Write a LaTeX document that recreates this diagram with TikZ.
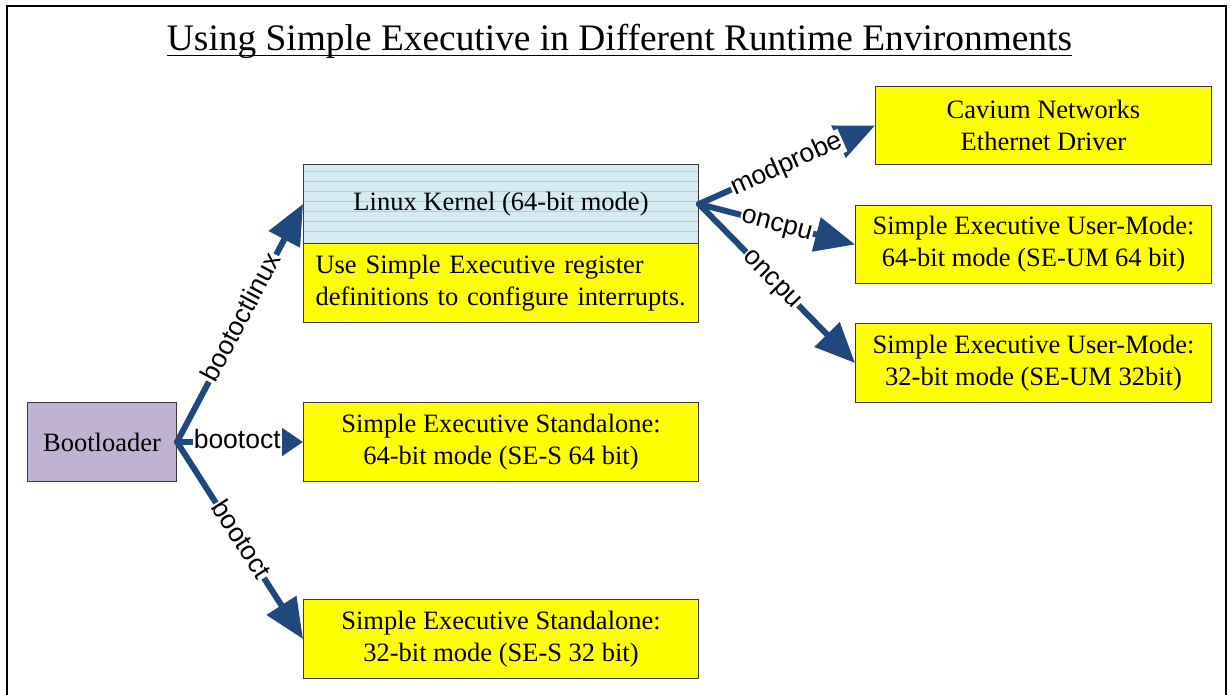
\documentclass[tikz,border=0pt]{standalone}
\usepackage{fontspec}
\setmainfont{Liberation Serif}
\setsansfont{Liberation Sans}
\usetikzlibrary{arrows.meta}

\definecolor{linkblue}{RGB}{31,73,125}
\definecolor{boxyellow}{RGB}{255,255,0}
\definecolor{bootlav}{RGB}{191,178,210}
\definecolor{kernelcyan}{RGB}{212,235,241}
\definecolor{kernelstripe}{RGB}{160,210,225}
\definecolor{boxedge}{RGB}{60,60,60}

\tikzset{
  boxtext/.style={font=\fontsize{26.5}{32}\selectfont},
  rbox/.style={boxtext, draw=boxedge, line width=1pt, fill=boxyellow,
    inner sep=0pt, align=center, anchor=north west},
  link/.style={draw=linkblue, line width=6pt, line cap=round,
    -{Triangle[length=40pt,width=34pt]}},
  shortlink/.style={link, -{Triangle[length=21pt,width=27pt]}},
  lbl/.style={font=\sffamily\fontsize{26.5}{30}\selectfont, fill=white,
    inner xsep=1pt, inner ysep=0pt, text height=19pt, text depth=5.5pt, sloped},
}

\begin{document}
\begin{tikzpicture}[x=1pt,y=-1pt]
\useasboundingbox (0,0) rectangle (1231,694);
\clip (0,0) rectangle (1231,694);
\fill[white] (0,0) rectangle (1231,694);

% outer frame
\draw[line width=1.2pt] (7,6) rectangle (1226,730);

% title
\node[font=\fontsize{37.4}{44}\selectfont, inner sep=0pt, anchor=base] (title) at (619.5,50)
  {Using Simple Executive in Different Runtime Environments};
\draw[line width=1.5pt] ([yshift=-5.5pt]title.base west) -- ([yshift=-5.5pt]title.base east);

% boxes
\node[rbox, fill=bootlav, minimum width=149pt, minimum height=79pt] (boot) at (27,402) {Bootloader};

\node[rbox, fill=kernelcyan, minimum width=395pt, minimum height=79pt,
  path picture={
    \foreach \k in {0,...,6}
      \draw[kernelstripe, line width=1.6pt]
        ([yshift={-7pt-\k*10pt}]path picture bounding box.north west) --
        ([yshift={-7pt-\k*10pt}]path picture bounding box.north east);
  }] (kernel) at (303,164) {Linux Kernel (64-bit mode)};

\node[rbox, align=left, text width=371pt, inner xsep=12pt, minimum height=79pt] (note) at (303,243)
  {Use Simple Executive register\\definitions to configure interrupts.};

\node[rbox, minimum width=395pt, minimum height=79pt] (ses64) at (303,402)
  {Simple Executive Standalone:\\64-bit mode (SE-S 64 bit)};
\node[rbox, minimum width=395pt, minimum height=79pt] (ses32) at (303,599)
  {Simple Executive Standalone:\\32-bit mode (SE-S 32 bit)};

\node[rbox, minimum width=336pt, minimum height=78pt] (cavium) at (875,86)
  {Cavium Networks\\Ethernet Driver};
\node[rbox, minimum width=356pt, minimum height=78pt] (seum64) at (855,205)
  {Simple Executive User-Mode:\\64-bit mode (SE-UM 64 bit)};
\node[rbox, minimum width=356pt, minimum height=79pt] (seum32) at (855,323)
  {Simple Executive User-Mode:\\32-bit mode (SE-UM 32bit)};

% connectors from the bootloader
\draw[link] (boot.east) -- node[lbl, pos=0.52] {bootoctlinux} (kernel.west);
\draw[shortlink] (boot.east) -- node[lbl, pos=0.478] {bootoct} (ses64.west);
\draw[link] (boot.east) -- node[lbl, pos=0.5] {bootoct} (ses32.west);

% connectors from the kernel
\draw[link] (kernel.east) -- node[lbl, pos=0.5] {modprobe} (cavium.west);
\draw[link] (kernel.east) -- node[lbl, pos=0.5] {oncpu} (seum64.west);
\draw[link] (kernel.east) -- node[lbl, pos=0.47] {oncpu} (seum32.west);
\end{tikzpicture}
\end{document}
